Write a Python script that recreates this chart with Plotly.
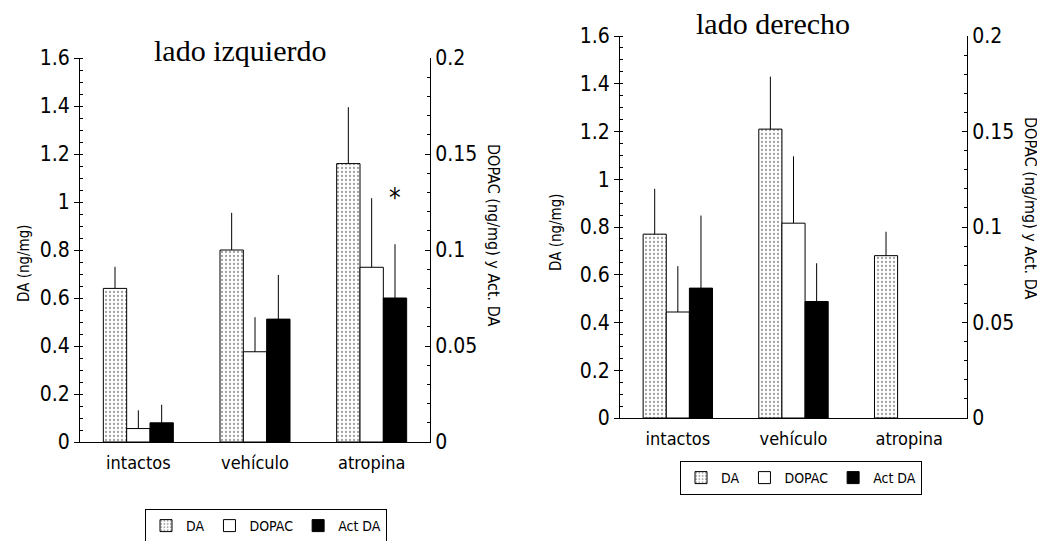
import plotly.graph_objects as go

categories = ["intactos", "vehículo", "atropina"]

# left panel (lado izquierdo)
L_DA = [0.64, 0.80, 1.16]
L_DA_err = [0.09, 0.155, 0.235]
L_DOPAC = [0.007, 0.047, 0.091]
L_DOPAC_err = [0.0095, 0.018, 0.036]
L_ACT = [0.010, 0.064, 0.075]
L_ACT_err = [0.0094, 0.023, 0.028]

# right panel (lado derecho)
R_DA = [0.77, 1.21, 0.68]
R_DA_err = [0.19, 0.22, 0.10]
R_DOPAC = [0.0555, 0.102, None]
R_DOPAC_err = [0.024, 0.035, None]
R_ACT = [0.068, 0.061, None]
R_ACT_err = [0.038, 0.020, None]

left_ticks = [0, 0.2, 0.4, 0.6, 0.8, 1, 1.2, 1.4, 1.6]
left_ticklabels = ["0", "0.2", "0.4", "0.6", "0.8", "1", "1.2", "1.4", "1.6"]
right_ticks = [0, 0.05, 0.1, 0.15, 0.2]
right_ticklabels = ["0", "0.05", "0.1", "0.15", "0.2"]

NARROW = "DejaVu Sans Condensed, Liberation Sans Narrow, Arial Narrow, Liberation Sans, sans-serif"
SERIF = "Liberation Serif, Times New Roman, serif"

W = 0.2
OFFS = [-0.3, -0.1, 0.1]

def err(vals):
    return dict(type="data", array=vals, arrayminus=[0]*len(vals), symmetric=False,
                color="black", thickness=1, width=0)

def add_panel(fig, xa, ya_l, ya_r, da, da_e, dop, dop_e, act, act_e, legend):
    fig.add_trace(go.Bar(x=categories, y=da, error_y=err(da_e), name="DA",
                         xaxis=xa, yaxis=ya_l, width=W, offset=OFFS[0],
                         marker=dict(color="white", line=dict(color="black", width=1),
                                     pattern=dict(shape=".", fgcolor="#444", bgcolor="white",
                                                  size=4, solidity=0.25)),
                         legend=legend))
    fig.add_trace(go.Bar(x=categories, y=dop, error_y=err([e if e is not None else 0 for e in dop_e]),
                         name="DOPAC", xaxis=xa, yaxis=ya_r, width=W, offset=OFFS[1],
                         marker=dict(color="white", line=dict(color="black", width=1)),
                         legend=legend))
    fig.add_trace(go.Bar(x=categories, y=act, error_y=err([e if e is not None else 0 for e in act_e]),
                         name="Act DA", xaxis=xa, yaxis=ya_r, width=W, offset=OFFS[2],
                         marker=dict(color="black", line=dict(color="black", width=1)),
                         legend=legend))

fig = go.Figure()
add_panel(fig, "x", "y", "y2", L_DA, L_DA_err, L_DOPAC, L_DOPAC_err, L_ACT, L_ACT_err, "legend")
add_panel(fig, "x2", "y3", "y4", R_DA, R_DA_err, R_DOPAC, R_DOPAC_err, R_ACT, R_ACT_err, "legend2")

# page body has an 8px margin, so the figure is drawn 8px in from the window corner
OFF = 8
Wpx, Hpx = 1045 - OFF, 541 - OFF
def fx(px):
    return (px - OFF) / Wpx
def fy(py):
    return 1 - (py - OFF) / Hpx

xcommon = dict(showline=True, linecolor="black", linewidth=1, ticks="", showgrid=False,
               zeroline=False, tickfont=dict(family=NARROW, size=18, color="black"),
               range=[-0.5, 2.5], ticklabelstandoff=4)
ycommon = dict(showline=True, linecolor="black", linewidth=1, showgrid=False, zeroline=False,
               tickfont=dict(family=NARROW, size=21, color="black"), ticklen=5, tickcolor="black")

Ldom_x = [fx(80), fx(430)]
Ldom_y = [fy(442), fy(58)]
Rdom_x = [fx(620), fx(967)]
Rdom_y = [fy(418), fy(36)]

def tfont(size):
    return dict(family=NARROW, size=size, color="black")

fig.update_layout(
    width=Wpx, height=Hpx,
    margin=dict(l=0, r=0, t=0, b=0, autoexpand=False),
    paper_bgcolor="white", plot_bgcolor="white",
    barmode="overlay",
    xaxis=dict(domain=Ldom_x, anchor="y", **xcommon),
    yaxis=dict(domain=Ldom_y, anchor="x", range=[0, 1.6], tickvals=left_ticks,
               ticktext=left_ticklabels, ticks="outside",
               minor=dict(dtick=0.05, ticks="inside", ticklen=3, tickcolor="black"), **ycommon),
    yaxis2=dict(overlaying="y", anchor="x", side="right", range=[0, 0.2], tickvals=right_ticks,
                ticktext=right_ticklabels, ticks="inside",
                minor=dict(dtick=0.01, ticks="inside", ticklen=3, tickcolor="black"), **ycommon),
    xaxis2=dict(domain=Rdom_x, anchor="y3", **xcommon),
    yaxis3=dict(domain=Rdom_y, anchor="x2", range=[0, 1.6], tickvals=left_ticks,
                ticktext=left_ticklabels, ticks="outside",
                minor=dict(dtick=0.05, ticks="inside", ticklen=3, tickcolor="black"), **ycommon),
    yaxis4=dict(overlaying="y3", anchor="x2", side="right", range=[0, 0.2], tickvals=right_ticks,
                ticktext=right_ticklabels, ticks="inside",
                minor=dict(dtick=0.01, ticks="inside", ticklen=3, tickcolor="black"), **ycommon),
    legend=dict(orientation="h", x=fx(266), y=fy(526), xanchor="center", yanchor="middle",
                bordercolor="black", borderwidth=1, bgcolor="white",
                font=tfont(14), itemwidth=30, tracegroupgap=0),
    legend2=dict(orientation="h", x=fx(801), y=fy(478), xanchor="center", yanchor="middle",
                 bordercolor="black", borderwidth=1, bgcolor="white",
                 font=tfont(14), itemwidth=30, tracegroupgap=0),
    annotations=[
        dict(text="lado izquierdo", x=fx(240), y=fy(50), xref="paper", yref="paper",
             xanchor="center", yanchor="middle",
             showarrow=False, font=dict(family=SERIF, size=30, color="black")),
        dict(text="lado derecho", x=fx(773), y=fy(24), xref="paper", yref="paper",
             xanchor="center", yanchor="middle",
             showarrow=False, font=dict(family=SERIF, size=30, color="black")),
        dict(text="DA (ng/mg)", x=fx(24), y=fy(263), xref="paper", yref="paper",
             xanchor="center", yanchor="middle",
             showarrow=False, textangle=-90, font=tfont(15)),
        dict(text="DOPAC (ng/mg) y Act. DA", x=fx(494), y=fy(235), xref="paper", yref="paper",
             xanchor="center", yanchor="middle",
             showarrow=False, textangle=90, font=tfont(16)),
        dict(text="DA (ng/mg)", x=fx(556), y=fy(232), xref="paper", yref="paper",
             xanchor="center", yanchor="middle",
             showarrow=False, textangle=-90, font=tfont(15)),
        dict(text="DOPAC (ng/mg) y Act. DA", x=fx(1030), y=fy(208), xref="paper", yref="paper",
             xanchor="center", yanchor="middle",
             showarrow=False, textangle=90, font=tfont(16)),
        dict(text="*", x=categories[2], y=0.118, xref="x", yref="y2", xshift=0.2 * 117,
             showarrow=False, xanchor="center", yanchor="bottom",
             font=dict(family=NARROW, size=26, color="black")),
    ],
)

fig.write_html("out.html")
